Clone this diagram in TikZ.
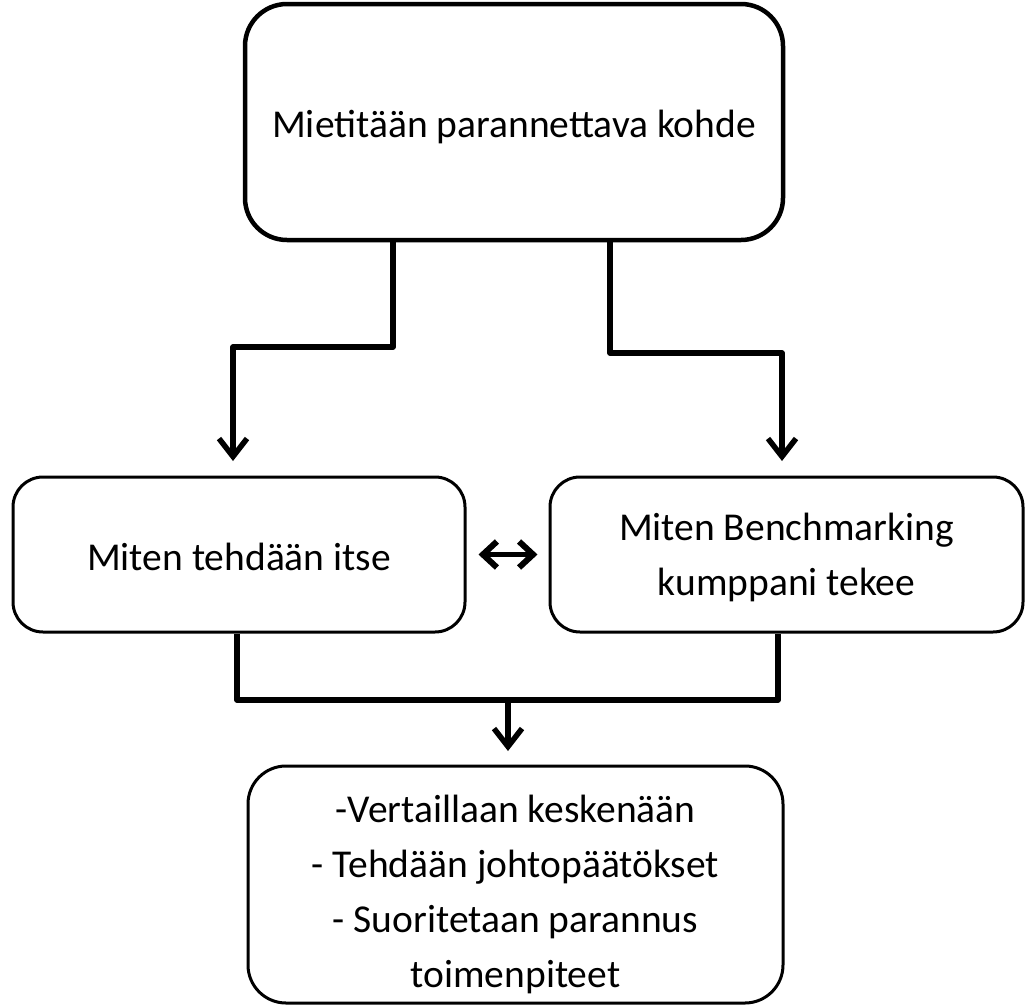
\documentclass[tikz,border=0pt]{standalone}
\usepackage{fontspec}
\setmainfont{Carlito}
\usetikzlibrary{arrows.meta,calc}
\newcommand{\lift}[1]{\rule{0pt}{#1}}
\begin{document}
\begin{tikzpicture}[x=1pt,y=-1pt,
  box/.style={draw=black, fill=white, rectangle, align=center, inner sep=0pt,
    font=\fontsize{39.5}{55}\selectfont},
  conn/.style={draw=black, line width=5.5pt, line join=round},
  tip/.style={-{Straight Barb[length=18pt,width=28pt,line width=5.5pt]}},
  dbltip/.style={{Straight Barb[length=14pt,width=26pt,line width=6pt]}-{Straight Barb[length=14pt,width=26pt,line width=6pt]}},
]
% canvas
\useasboundingbox (0,0) rectangle (1026,1007);

% boxes
\node[box, line width=4.5pt, rounded corners=42pt, minimum width=538pt, minimum height=236pt]
  (top) at (514,122) {\lift{38pt}Mietitään parannettava kohde};
\node[box, line width=3pt, rounded corners=30pt, minimum width=452pt, minimum height=155pt]
  (left) at (239,554.5) {\lift{32pt}Miten tehdään itse};
\node[box, line width=3pt, rounded corners=30pt, minimum width=473pt, minimum height=155pt]
  (right) at (786.5,554.5) {\lift{34pt}Miten Benchmarking\\kumppani tekee};
\node[box, line width=3pt, rounded corners=38pt, minimum width=535pt, minimum height=237pt]
  (bottom) at (515.5,884.5) {\lift{48pt}-Vertaillaan keskenään\\- Tehdään johtopäätökset\\- Suoritetaan parannus\\toimenpiteet};

% routing points
\coordinate (lbend) at (393,347);
\coordinate (ltip)  at (233,461);
\coordinate (rbend) at (610,353);
\coordinate (rtip)  at (782,461);
\coordinate (lout)  at (237,0);
\coordinate (rout)  at (778,0);
\coordinate (merge) at (508,700);
\coordinate (btip)  at (508,751);

% split from the top box
\draw[conn, tip] (top.south -| lbend) -- (lbend) -| (ltip);
\draw[conn, tip] (top.south -| rbend) -- (rbend) -| (rtip);

% join into the bottom box
\draw[conn] (left.south -| lout) |- (merge) -| (right.south -| rout);
\draw[conn, tip] (merge) -- (btip);

% comparison between the two middle boxes
\draw[line width=4.5pt, dbltip, shorten <=12pt, shorten >=11pt]
  (left.east) -- (right.west);
\end{tikzpicture}
\end{document}
